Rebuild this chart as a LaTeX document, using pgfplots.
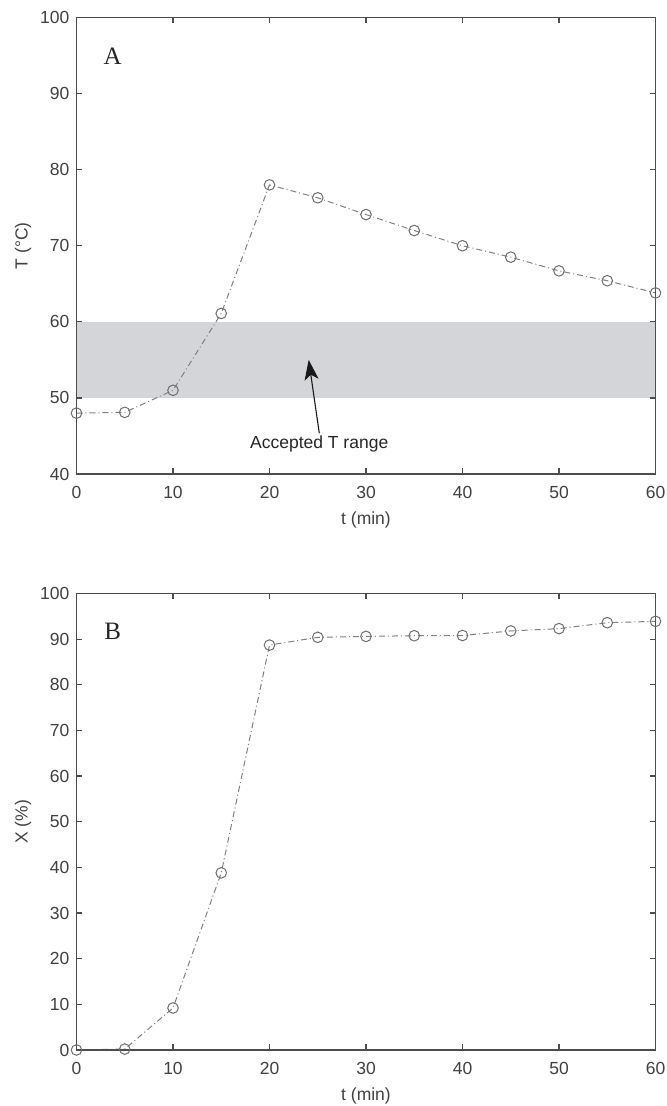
\documentclass[border=0pt]{standalone}
\usepackage{fontspec}
\setmainfont{Liberation Sans}
\newfontfamily\seriffont{Liberation Serif}
\usepackage{pgfplots}
\pgfplotsset{compat=1.18}
\usetikzlibrary{arrows.meta}
\definecolor{axgray}{RGB}{77,77,77}
\definecolor{txtgray}{RGB}{64,64,64}
\definecolor{bandgray}{RGB}{212,213,216}
\definecolor{linegray}{RGB}{128,128,128}
\definecolor{markgray}{RGB}{110,110,110}

\pgfplotsset{
  myaxis/.style={
    scale only axis,
    width=289.5pt, height=228.25pt,
    xmin=0, xmax=60,
    xtick={0,10,...,60},
    tick pos=both,
    tick align=inside,
    major tick length=2.85pt,
    axis line style={axgray, line width=0.6pt},
    every tick/.style={axgray, line width=0.6pt},
    /pgf/number format/assume math mode=true,
    tick label style={font=\fontsize{8.75}{10}\selectfont, text=txtgray},
    xticklabel style={yshift=-2.5pt},
    label style={font=\fontsize{8.75}{10}\selectfont, text=txtgray},
    xlabel={t (min)},
    xlabel style={at={(axis description cs:0.5,-0.1008)}, anchor=center},
    ylabel style={at={(axis description cs:-0.0924,0.5)}, anchor=center, rotate=0},
    axis on top=true,
    clip=false,
  },
  myline/.style={
    linegray, line width=0.5pt,
    dash pattern=on 3pt off 1.5pt on 0.5pt off 1.5pt,
    mark=o, mark size=2.65pt,
    mark options={solid, draw=markgray, fill=none, line width=0.5pt},
  },
}

\begin{document}
\begin{tikzpicture}
\path[use as bounding box] (0pt,0pt) rectangle (333.5pt,553pt);

\begin{axis}[myaxis,
  at={(38.25pt,316pt)}, anchor=south west,
  ymin=40, ymax=100, ytick={40,50,...,100},
  ylabel={T (°C)}]
\addplot[fill=bandgray, draw=none, forget plot] coordinates {(0,50) (60,50) (60,60) (0,60)} -- cycle;
\addplot[myline] coordinates {
(0,48.0) (5,48.1) (10,51.0) (15,61.1) (20,78.0) (25,76.3) (30,74.1)
(35,72.0) (40,70.0) (45,68.5) (50,66.7) (55,65.4) (60,63.8)};
\draw[black!90, line width=0.55pt, -{Stealth[length=10pt, width=7pt, inset=2.5pt]}]
  (axis cs:25.16,45.35) -- (axis cs:24.06,55.0);
\node[font=\fontsize{8.75}{10}\selectfont, text=black!85, anchor=center] at (axis cs:25.15,43.9) {Accepted T range};
\node[font=\seriffont\fontsize{12.5}{14}\selectfont, text=black!85] at (axis cs:3.75,94.9) {A};
\end{axis}

\begin{axis}[myaxis,
  at={(38.25pt,28pt)}, anchor=south west,
  ymin=0, ymax=100, ytick={0,10,...,100},
  ylabel={X (\%)}]
\addplot[myline] coordinates {
(0,0.0) (5,0.2) (10,9.2) (15,38.8) (20,88.7) (25,90.4) (30,90.6)
(35,90.75) (40,90.8) (45,91.8) (50,92.3) (55,93.6) (60,93.9)};
\node[font=\seriffont\fontsize{12.5}{14}\selectfont, text=black!85] at (axis cs:3.75,91.8) {B};
\end{axis}
\end{tikzpicture}
\end{document}
